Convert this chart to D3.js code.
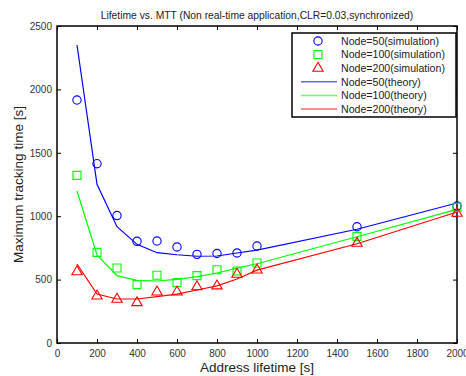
<!DOCTYPE html>
<html>
<head>
<meta charset="utf-8">
<script src="https://cdn.jsdelivr.net/npm/d3@7"></script>
<style>
  body { margin: 0; background: #fff; }
  svg { display: block; font-family: "Liberation Sans", Arial, sans-serif; }
</style>
</head>
<body>
<svg id="chart" width="466" height="376"></svg>
<script>
// address lifetime values [s]
var lifetimes = [100, 200, 300, 400, 500, 600, 700, 800, 900, 1000, 1500, 2000];

// simulation points
var sim50  = [1916, 1414, 1005, 802, 804, 757, 699, 706, 710, 765, 917, 1080];
var sim100 = [1322, 715, 591, 460, 534, 476, 531, 578, 568, 631, 841, 1070];
var sim200 = [562, 371, 345, 318, 402, 402, 444, 450, 542, 576, 786, 1023];

// theory curves
var theory50  = [2350, 1251, 917, 778, 712, 696, 684, 686, 710, 733, 897, 1104];
var theory100 = [1199, 694, 531, 494, 489, 502, 523, 552, 591, 625, 838, 1054];
var theory200 = [623, 386, 347, 347, 365, 386, 418, 450, 505, 575, 783, 1033];

var xTicks = [0, 200, 400, 600, 800, 1000, 1200, 1400, 1600, 1800, 2000];
var yTicks = [0, 500, 1000, 1500, 2000, 2500];

var legendLabels = ["Node=50(simulation)", "Node=100(simulation)", "Node=200(simulation)",
                    "Node=50(theory)", "Node=100(theory)", "Node=200(theory)"];

var margin = {top: 26, right: 9, bottom: 33, left: 57};
var svg = d3.select("#chart");
var width = 466 - margin.left - margin.right;
var height = 376 - margin.top - margin.bottom;

var xScale = d3.scaleLinear().domain([0, 2000]).range([0, width]);
var yScale = d3.scaleLinear().domain([0, 2500]).range([height, 0]);

var g = svg.append("g")
    .attr("transform", "translate(" + margin.left + "," + margin.top + ")");

// title
svg.append("text")
    .attr("x", margin.left + width / 2)
    .attr("y", 19)
    .attr("text-anchor", "middle")
    .style("font-size", "10.3px")
    .style("fill", "#222")
    .text("Lifetime vs. MTT (Non real-time application,CLR=0.03,synchronized)");

// axes, ticks pointing inward like matlab
var xAxis = d3.axisBottom(xScale).tickValues(xTicks).tickSize(-4).tickPadding(7).tickFormat(d3.format("d"));
var yAxis = d3.axisLeft(yScale).tickValues(yTicks).tickSize(-4).tickPadding(5).tickFormat(d3.format("d"));

g.append("g")
    .attr("class", "axis axis--x")
    .attr("transform", "translate(0," + height + ")")
    .call(xAxis);
g.append("g")
    .attr("class", "axis axis--y")
    .call(yAxis);

// top and right ticks
g.append("g")
    .call(d3.axisTop(xScale).tickValues(xTicks).tickSize(-4).tickFormat(""));
g.append("g")
    .attr("transform", "translate(" + width + ",0)")
    .call(d3.axisRight(yScale).tickValues(yTicks).tickSize(-4).tickFormat(""));

g.selectAll(".domain").remove();
g.selectAll(".tick line").attr("stroke", "#000");
g.selectAll(".tick text").style("font-size", "10px").style("fill", "#333")
    .style("font-family", "Liberation Sans, Arial, sans-serif");

// box
g.append("rect")
    .attr("width", width)
    .attr("height", height)
    .attr("fill", "none")
    .attr("stroke", "#000")
    .attr("stroke-width", 1.5);

// axis labels
svg.append("text")
    .attr("x", margin.left + width / 2)
    .attr("y", 372)
    .attr("text-anchor", "middle")
    .style("font-size", "13.5px")
    .style("fill", "#222")
    .text("Address lifetime [s]");

svg.append("text")
    .attr("transform", "translate(23," + (margin.top + height / 2) + ") rotate(-90)")
    .attr("text-anchor", "middle")
    .style("font-size", "13.5px")
    .style("fill", "#222")
    .text("Maximum tracking time [s]");

// theory lines
var line = d3.line()
    .x(function(d, i) { return xScale(lifetimes[i]); })
    .y(function(d) { return yScale(d); });

var theory = [
    {values: theory50, color: "#0000ff"},
    {values: theory100, color: "#00ff00"},
    {values: theory200, color: "#ff0000"}
];
theory.forEach(function(s) {
    g.append("path")
        .datum(s.values)
        .attr("fill", "none")
        .attr("stroke", s.color)
        .attr("stroke-width", 1.2)
        .attr("d", line);
});

// simulation markers
var circleSym = d3.symbol().type(d3.symbolCircle).size(54);
var squareSym = d3.symbol().type(d3.symbolSquare).size(64);
var triSym = d3.symbol().type(d3.symbolTriangle).size(46);

var sims = [
    {values: sim50, color: "#0000ff", sym: circleSym},
    {values: sim100, color: "#00ff00", sym: squareSym},
    {values: sim200, color: "#ff0000", sym: triSym}
];
sims.forEach(function(s) {
    g.selectAll(null)
        .data(s.values)
        .enter().append("path")
        .attr("transform", function(d, i) { return "translate(" + xScale(lifetimes[i]) + "," + yScale(d) + ")"; })
        .attr("d", s.sym)
        .attr("fill", "none")
        .attr("stroke", s.color)
        .attr("stroke-width", 1.1);
});

// legend
var legend = svg.append("g").attr("transform", "translate(292,33)");
legend.append("rect")
    .attr("width", 164)
    .attr("height", 84)
    .attr("fill", "#fff")
    .attr("stroke", "#000")
    .attr("stroke-width", 1.5);

var rowY = function(i) { return 8 + i * 13.6; };
var items = legend.selectAll(".legend")
    .data(legendLabels)
    .enter().append("g")
    .attr("class", "legend")
    .attr("transform", function(d, i) { return "translate(0," + rowY(i) + ")"; });

items.append("text")
    .attr("x", 49)
    .attr("y", 0)
    .attr("dy", "0.35em")
    .style("font-size", "10.6px")
    .style("fill", "#222")
    .text(function(d) { return d; });

items.filter(function(d, i) { return i < 3; })
    .append("path")
    .attr("transform", "translate(26,0)")
    .attr("d", function(d, i) { return sims[i].sym(); })
    .attr("fill", "none")
    .attr("stroke", function(d, i) { return sims[i].color; })
    .attr("stroke-width", 1.1);

items.filter(function(d, i) { return i >= 3; })
    .append("line")
    .attr("x1", 9)
    .attr("x2", 45)
    .attr("stroke", function(d, i) { return theory[i].color; })
    .attr("stroke-opacity", 0.6)
    .attr("stroke-width", 1.5);
</script>
</body>
</html>
